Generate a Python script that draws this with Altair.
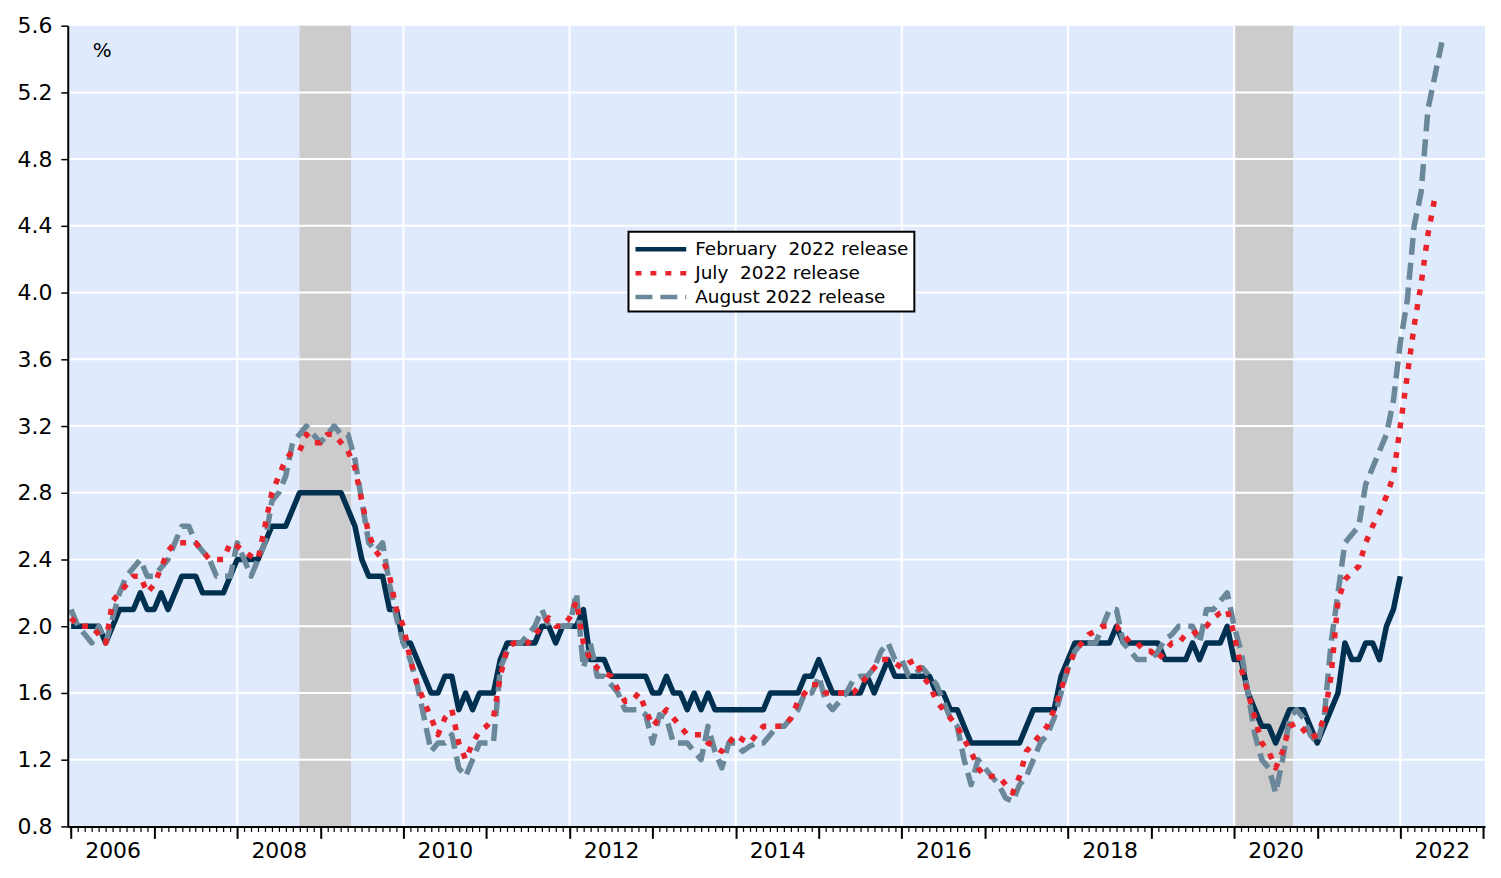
import altair as alt
import pandas as pd

FIRST_YEAR = 2006
FONT = "DejaVu Sans"

series_names = ["February\u00a0 2022 release", "July\u00a0 2022 release", "August 2022 release"]
series_colors = ["#00304F", "#E8232B", "#6A8899"]
series_dashes = [[1, 0], [6, 9], [17, 8]]

# monthly values, Jan 2006 onwards
feb_release = [
    2.0, 2.0, 2.0, 2.0, 2.0, 1.9, 2.0, 2.1, 2.1, 2.1, 2.2, 2.1,
    2.1, 2.2, 2.1, 2.2, 2.3, 2.3, 2.3, 2.2, 2.2, 2.2, 2.2, 2.3,
    2.4, 2.4, 2.4, 2.4, 2.5, 2.6, 2.6, 2.6, 2.7, 2.8, 2.8, 2.8,
    2.8, 2.8, 2.8, 2.8, 2.7, 2.6, 2.4, 2.3, 2.3, 2.3, 2.1, 2.1,
    1.9, 1.9, 1.8, 1.7, 1.6, 1.6, 1.7, 1.7, 1.5, 1.6, 1.5, 1.6,
    1.6, 1.6, 1.8, 1.9, 1.9, 1.9, 1.9, 1.9, 2.0, 2.0, 1.9, 2.0,
    2.0, 2.0, 2.1, 1.8, 1.8, 1.8, 1.7, 1.7, 1.7, 1.7, 1.7, 1.7,
    1.6, 1.6, 1.7, 1.6, 1.6, 1.5, 1.6, 1.5, 1.6, 1.5, 1.5, 1.5,
    1.5, 1.5, 1.5, 1.5, 1.5, 1.6, 1.6, 1.6, 1.6, 1.6, 1.7, 1.7,
    1.8, 1.7, 1.6, 1.6, 1.6, 1.6, 1.6, 1.7, 1.6, 1.7, 1.8, 1.7,
    1.7, 1.7, 1.7, 1.7, 1.7, 1.6, 1.6, 1.5, 1.5, 1.4, 1.3, 1.3,
    1.3, 1.3, 1.3, 1.3, 1.3, 1.3, 1.4, 1.5, 1.5, 1.5, 1.5, 1.7,
    1.8, 1.9, 1.9, 1.9, 1.9, 1.9, 1.9, 2.0, 1.9, 1.9, 1.9, 1.9,
    1.9, 1.9, 1.8, 1.8, 1.8, 1.8, 1.9, 1.8, 1.9, 1.9, 1.9, 2.0,
    1.8, 1.8, 1.6, 1.5, 1.4, 1.4, 1.3, 1.4, 1.5, 1.5, 1.5, 1.4,
    1.3, 1.4, 1.5, 1.6, 1.9, 1.8, 1.8, 1.9, 1.9, 1.8, 2.0, 2.1,
    2.3,
]

jul_release = [
    2.05, 2.0, 2.0, 2.0, 1.95, 1.9, 2.15, 2.2, 2.25, 2.3, 2.3, 2.2,
    2.25, 2.35, 2.45, 2.5, 2.5, 2.5, 2.5, 2.45, 2.4, 2.4, 2.4, 2.5,
    2.48, 2.45, 2.42, 2.4, 2.6, 2.8, 2.9, 3.0, 3.05, 3.05, 3.15, 3.1,
    3.1, 3.15, 3.15, 3.1, 3.05, 2.95, 2.75, 2.55, 2.45, 2.4, 2.3, 2.1,
    2.0, 1.8, 1.65, 1.55, 1.45, 1.35, 1.45, 1.5, 1.3, 1.2, 1.3, 1.37,
    1.4, 1.45, 1.7, 1.87, 1.9, 1.9, 1.9, 1.95, 2.0, 2.05, 2.0, 2.0,
    2.05, 2.15, 1.9, 1.8, 1.75, 1.72, 1.7, 1.62, 1.55, 1.55, 1.6, 1.5,
    1.4, 1.45, 1.5, 1.45, 1.4, 1.35, 1.35, 1.35, 1.3, 1.28, 1.25, 1.3,
    1.35, 1.32, 1.3, 1.35, 1.4, 1.4, 1.4, 1.4, 1.45, 1.55, 1.6, 1.65,
    1.65, 1.6, 1.6, 1.6, 1.6, 1.6, 1.65, 1.7, 1.75, 1.8, 1.8, 1.78,
    1.75, 1.78, 1.8, 1.7, 1.65, 1.55, 1.5, 1.45, 1.4, 1.32, 1.25, 1.15,
    1.1, 1.1, 1.1, 1.05, 1.0, 1.1, 1.25, 1.3, 1.35, 1.4, 1.5, 1.62,
    1.75, 1.85, 1.9, 1.95, 1.97, 2.0, 2.0, 2.0, 1.95, 1.9, 1.9, 1.85,
    1.85, 1.8, 1.85, 1.9, 1.9, 1.95, 1.95, 1.98, 2.0, 2.05, 2.08, 2.1,
    1.95, 1.75, 1.6, 1.45, 1.3, 1.25, 1.15, 1.25, 1.4, 1.42, 1.38, 1.33,
    1.35, 1.45, 1.7, 2.15, 2.28, 2.32, 2.36, 2.5, 2.6, 2.68, 2.78, 2.9,
    3.2, 3.5, 3.8, 4.05, 4.35, 4.57,
]

aug_release = [
    2.1, 2.0, 1.95, 1.9, 2.0, 1.9, 2.05, 2.2, 2.3, 2.35, 2.4, 2.3,
    2.3, 2.35, 2.4, 2.5, 2.6, 2.6, 2.5, 2.45, 2.4, 2.3, 2.3, 2.3,
    2.5, 2.4, 2.3, 2.4, 2.5, 2.75, 2.8, 2.9, 3.1, 3.15, 3.2, 3.15,
    3.1, 3.15, 3.2, 3.15, 3.15, 3.0, 2.75, 2.5, 2.45, 2.5, 2.25, 2.05,
    1.9, 1.8, 1.65, 1.45, 1.25, 1.3, 1.3, 1.35, 1.15, 1.1, 1.2, 1.3,
    1.3, 1.3, 1.75, 1.85, 1.9, 1.9, 1.95, 2.0, 2.1, 2.0, 2.0, 2.0,
    2.0, 2.2, 1.75, 1.9, 1.7, 1.7, 1.65, 1.6, 1.5, 1.5, 1.5, 1.47,
    1.3, 1.47, 1.45, 1.3, 1.3, 1.3, 1.25, 1.2, 1.4, 1.25, 1.15, 1.3,
    1.3, 1.25, 1.28, 1.3, 1.3, 1.35, 1.4, 1.4, 1.45, 1.5, 1.6, 1.6,
    1.7, 1.55, 1.5, 1.55, 1.6, 1.68, 1.7, 1.7, 1.75, 1.85, 1.9, 1.8,
    1.8, 1.7, 1.72, 1.75, 1.7, 1.65, 1.55, 1.45, 1.4, 1.2, 1.05, 1.2,
    1.15, 1.1, 1.05, 0.97, 0.95, 1.05, 1.1, 1.2, 1.3, 1.35, 1.45, 1.6,
    1.75, 1.85, 1.9, 1.9, 1.9, 2.0, 2.1, 2.1, 1.9, 1.85, 1.8, 1.8,
    1.8, 1.85, 1.92, 1.95, 2.0, 2.0, 2.0, 1.9, 2.1, 2.1, 2.15, 2.2,
    2.0, 1.85, 1.6, 1.35, 1.2, 1.15, 1.0, 1.2, 1.45, 1.5, 1.45, 1.35,
    1.3, 1.45, 1.9, 2.2, 2.5, 2.55, 2.6, 2.85, 2.95, 3.05, 3.15, 3.35,
    3.7, 3.95, 4.4, 4.6, 5.1, 5.3, 5.5,
]

recession_start = [2008.75, 2020.0]
recession_end = [2009.37, 2020.71]

y_ticks = [0.8, 1.2, 1.6, 2.0, 2.4, 2.8, 3.2, 3.6, 4.0, 4.4, 4.8, 5.2, 5.6]
y_grid = [1.2, 1.6, 2.0, 2.4, 2.8, 3.2, 3.6, 4.0, 4.4, 4.8, 5.2]
x_grid_years = [2008, 2010, 2012, 2014, 2016, 2018, 2020, 2022]
year_ticks = list(range(2006, 2024))
month_ticks = [FIRST_YEAR + k / 12 for k in range(0, 205)]
label_positions = [y + 0.5 for y in range(2006, 2023, 2)]

rows = []
for name, vals in zip(series_names, [feb_release, jul_release, aug_release]):
    for i, v in enumerate(vals):
        rows.append({"t": FIRST_YEAR + i / 12, "value": v, "series": name})
df = pd.DataFrame(rows)

rec_df = pd.DataFrame({"start": recession_start, "end": recession_end})
xgrid_df = pd.DataFrame({"g": x_grid_years})
ygrid_df = pd.DataFrame({"g": y_grid})

xs = alt.Scale(domain=[2005.96, 2023.02], nice=False, zero=False)
ys = alt.Scale(domain=[0.8, 5.6], nice=False, zero=False)
color_scale = alt.Scale(domain=series_names, range=series_colors)
dash_scale = alt.Scale(domain=series_names, range=series_dashes)

minor_axis = alt.Axis(orient="bottom", values=month_ticks, tickSize=5, tickWidth=1.2,
                      tickColor="black", labels=False, grid=False, domain=True,
                      domainColor="black", domainWidth=2, title=None, zindex=2)
major_axis = alt.Axis(orient="bottom", values=year_ticks, tickSize=12, tickWidth=2,
                      tickColor="black", labels=False, grid=False, domain=False,
                      title=None, zindex=2)
label_axis = alt.Axis(orient="bottom", values=label_positions, ticks=False, tickSize=0,
                      labelExpr="floor(datum.value)", labelFont=FONT, labelFontSize=22,
                      labelColor="black", labelPadding=14, grid=False, domain=False,
                      title=None, labelFlush=False, labelOverlap=False, zindex=2)
y_axis = alt.Axis(orient="left", values=y_ticks, format=".1f", tickSize=7, tickWidth=1.5,
                  tickColor="black", labelFont=FONT, labelFontSize=22, labelColor="black",
                  labelPadding=9, domain=True, domainColor="black", domainWidth=2,
                  grid=False, title="%", titleAngle=0, titleX=34, titleY=25,
                  titleFont=FONT, titleFontSize=20, titleFontWeight="normal",
                  titleAlign="center", titleBaseline="middle", titleColor="black",
                  labelFlush=False, labelOverlap=False, zindex=2)

legend = alt.Legend(title=None, orient="none", legendX=563, legendY=207,
                    direction="vertical", fillColor="white", strokeColor="black",
                    padding=5, symbolType="M-2.5,0H2.5", symbolSize=416,
                    symbolStrokeWidth=4.5, symbolOffset=15, labelFont=FONT,
                    labelFontSize=18.5, labelColor="black", labelOffset=22,
                    rowPadding=2, labelLimit=400)

rects = alt.Chart(rec_df).mark_rect(color="#CCCCCC").encode(
    x=alt.X("start:Q", scale=xs, axis=minor_axis),
    x2="end:Q",
    y=alt.YDatum(5.6, scale=ys, axis=None),
    y2=alt.Y2Datum(0.8),
)

vgrid = alt.Chart(xgrid_df).mark_rule(color="white", strokeWidth=2).encode(
    x=alt.X("g:Q", scale=xs, axis=major_axis),
)

hgrid = alt.Chart(ygrid_df).mark_rule(color="white", strokeWidth=2).encode(
    y=alt.Y("g:Q", scale=ys, axis=None),
)


def series_layer(name, x_axis, yax):
    return alt.Chart(df[df["series"] == name]).mark_line(
        strokeWidth=5.5, strokeJoin="round"
    ).encode(
        x=alt.X("t:Q", scale=xs, axis=x_axis),
        y=alt.Y("value:Q", scale=ys, axis=yax),
        color=alt.Color("series:N", scale=color_scale, legend=legend),
        strokeDash=alt.StrokeDash("series:N", scale=dash_scale, legend=legend),
    )


navy = series_layer(series_names[0], label_axis, y_axis)
grey = series_layer(series_names[2], None, None)
red = series_layer(series_names[1], None, None)

chart = alt.layer(rects, vgrid, hgrid, navy, grey, red).resolve_axis(
    x="independent", y="independent"
).properties(
    width=1423,
    height=804,
    padding={"left": 60, "top": 16, "right": 8, "bottom": 37},
    autosize=alt.AutoSizeParams(type="none"),
    background="white",
).configure_view(fill="#DFEBFC", stroke=None).configure_legend(strokeWidth=2)

chart.save("out.html", embed_options={"renderer": "svg", "actions": False})
